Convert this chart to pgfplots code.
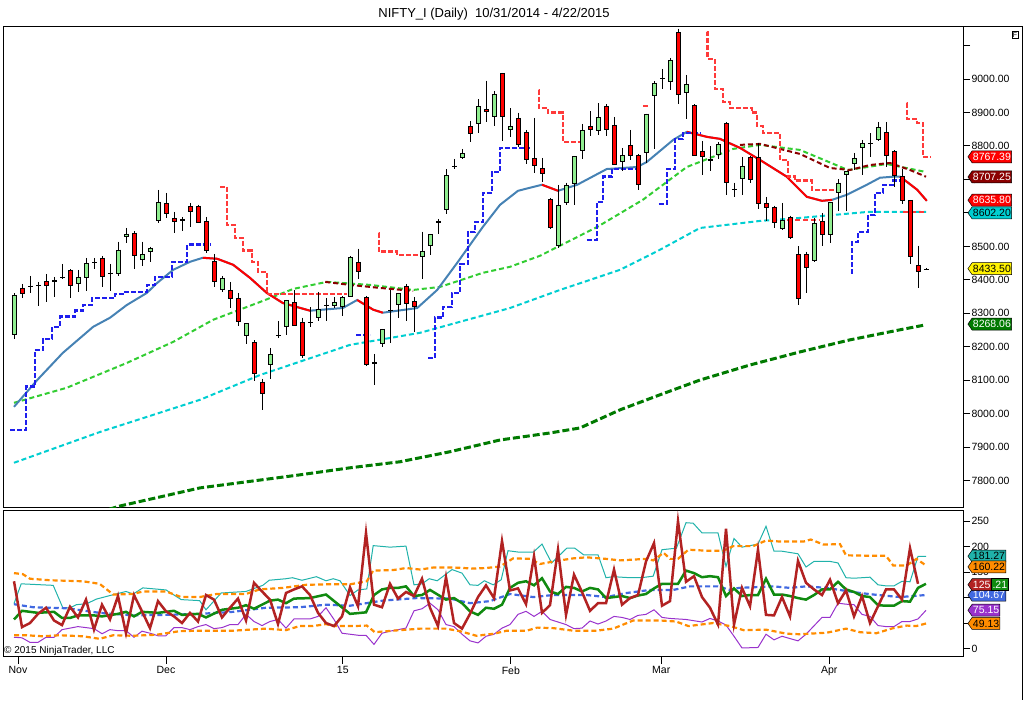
\documentclass[border=0pt]{standalone}
\usepackage{pgfplots}
\pgfplotsset{compat=1.18}
\usepackage{pgfplotstable}
\usepackage{fontspec}
\setmainfont{Liberation Sans}
\usetikzlibrary{shapes.symbols}
\definecolor{upc}{HTML}{90EE90}
\definecolor{dnc}{HTML}{FF0000}
\definecolor{smab}{HTML}{4682B4}
\definecolor{limeg}{HTML}{32CD32}
\definecolor{cyn}{HTML}{00CED1}
\definecolor{dred}{HTML}{8B0000}
\definecolor{dgrn}{HTML}{007A00}
\definecolor{stblue}{HTML}{1E1EEE}
\definecolor{stred}{HTML}{FF3A3A}
\definecolor{fbrick}{HTML}{B22222}
\definecolor{fgreen}{HTML}{108A10}
\definecolor{rblue}{HTML}{4169E1}
\definecolor{dorange}{HTML}{FF8C00}
\definecolor{lsea}{HTML}{20B2AA}
\definecolor{dorchid}{HTML}{9932CC}
\pgfplotstableread{
i o h l c
0 8236 8360 8224 8355
1 8376 8388 8346 8358
2 8380 8412 8361 8383
3 8383 8394 8322 8385
4 8397 8418 8334 8382
5 8394 8409 8349 8400
6 8407 8448 8403 8409
7 8430 8432 8346 8382
8 8388 8430 8364 8409
9 8406 8466 8367 8451
10 8450 8466 8433 8452
11 8466 8472 8380 8409
12 8420 8448 8367 8422
13 8418 8514 8412 8490
14 8529 8555 8511 8538
15 8541 8545 8433 8472
16 8460 8514 8442 8478
17 8484 8499 8454 8496
18 8576 8669 8570 8633
19 8630 8660 8585 8597
20 8585 8603 8539 8573
21 8576 8588 8545 8582
22 8621 8630 8558 8603
23 8621 8625 8570 8570
24 8576 8588 8481 8487
25 8457 8478 8379 8394
26 8370 8412 8365 8406
27 8370 8394 8316 8343
28 8346 8361 8263 8275
29 8233 8251 8209 8272
30 8215 8220 8098 8119
31 8096 8105 8012 8060
32 8146 8197 8104 8179
33 8232 8278 8227 8234
34 8260 8340 8236 8340
35 8334 8370 8263 8263
36 8275 8287 8167 8173
37 8271 8319 8260 8273
38 8287 8364 8278 8313
39 8324 8346 8278 8326
40 8322 8349 8316 8334
41 8319 8352 8292 8349
42 8349 8472 8349 8469
43 8454 8493 8403 8424
44 8349 8352 8143 8146
45 8149 8179 8086 8155
46 8209 8254 8200 8254
47 8309 8370 8212 8311
48 8325 8361 8287 8361
49 8382 8388 8278 8328
50 8337 8349 8245 8319
51 8469 8544 8403 8487
52 8502 8537 8475 8537
53 8570 8582 8537 8576
54 8609 8731 8597 8713
55 8739 8761 8731 8741
56 8764 8791 8761 8779
57 8860 8875 8812 8836
58 8866 8940 8839 8919
59 8910 8995 8871 8901
60 8887 8964 8860 8955
61 9018 9018 8815 8887
62 8848 8913 8827 8860
63 8884 8899 8797 8803
64 8842 8848 8746 8758
65 8764 8884 8719 8740
66 8734 8764 8692 8716
67 8642 8645 8552 8555
68 8501 8684 8495 8624
69 8630 8690 8624 8684
70 8687 8770 8624 8770
71 8785 8866 8761 8848
72 8860 8904 8830 8848
73 8845 8928 8833 8887
74 8919 8925 8830 8848
75 8863 8887 8743 8743
76 8752 8794 8725 8773
77 8803 8848 8758 8770
78 8773 8776 8669 8684
79 8779 8896 8749 8896
80 8949 8994 8791 8988
81 9000 9030 8970 9003
82 8991 9063 8967 9057
83 9140 9150 8925 8952
84 8958 9012 8881 8985
85 8922 8925 8770 8770
86 8785 8815 8713 8767
87 8755 8800 8725 8761
88 8773 8812 8760 8806
89 8869 8872 8654 8690
90 8672 8690 8648 8672
91 8701 8767 8654 8740
92 8767 8770 8690 8698
93 8767 8809 8612 8627
94 8630 8648 8576 8615
95 8618 8622 8555 8570
96 8552 8630 8549 8579
97 8588 8592 8522 8525
98 8478 8500 8325 8343
99 8478 8484 8362 8436
100 8457 8585 8454 8570
101 8576 8600 8500 8534
102 8534 8633 8510 8633
103 8660 8700 8606 8690
104 8713 8725 8606 8725
105 8746 8779 8728 8764
106 8794 8818 8713 8809
107 8809 8838 8767 8809
108 8818 8872 8815 8857
109 8842 8872 8737 8770
110 8785 8787 8676 8710
111 8710 8730 8627 8636
112 8639 8639 8448 8469
113 8445 8502 8376 8424
114 8433 8436 8430 8433
}\candles
\begin{document}
\begin{tikzpicture}[x=1pt,y=1pt,font=\fontsize{10.5}{12}\selectfont]
\path[use as bounding box] (0,0) rectangle (1024,703);
\draw[black, line width=1pt] (3,676) -- (1022,676) -- (1022,3);
\node[draw, line width=0.6pt, inner sep=1pt, font=\fontsize{7}{8}\selectfont] at (1015,668) {F};
\node[font=\fontsize{13}{15}\selectfont] at (494,689) {NIFTY\_I (Daily)\ \ 10/31/2014 - 4/22/2015};
\pgfplotsset{hid/.style={only marks, mark=*, mark size=0.1pt, mark options={opacity=0}}}
% ---------------- upper panel
\begin{axis}[at={(3pt,195pt)}, anchor=south west, width=960pt, height=481pt, scale only axis,
  xmin=-1.375, xmax=118.625, ymin=7719, ymax=9155,
  xtick=\empty, ytick={7800,7900,8000,8100,8200,8300,8400,8500,8600,8700,8800,8900,9000,9100},
  yticklabels={7800.00,7900.00,8000.00,8100.00,8200.00,8300.00,8400.00,8500.00,8600.00,8700.00,8800.00,8900.00,9000.00,},
  yticklabel pos=right, ytick pos=right, tick align=outside, major tick length=7pt,
  tick style={black, line width=0.8pt}, axis line style={line width=1pt},
  yticklabel style={xshift=-2pt}, clip=true, clip mode=individual]
\addplot[dgrn, line width=3pt, dash pattern=on 7pt off 3pt] coordinates {(10.75,7707)(13.25,7725)(23.25,7779)(35.75,7818)(42,7839)(48.25,7857)(54.5,7887)(60.75,7922)(67,7943)(70.75,7958)(75.75,8012)(80.75,8057)(85.75,8101)(92,8146)(98.25,8185)(104.5,8221)(110.75,8251)(114,8266)};
\addplot[cyn, line width=2pt, dash pattern=on 5pt off 3pt] coordinates {(0,7854)(10.75,7946)(23.25,8042)(30.75,8116)(42,8206)(50.75,8242)(62,8316)(68.25,8370)(75.75,8430)(80.75,8490)(85.75,8555)(93.25,8576)(98.25,8585)(106.75,8603)(114,8603)};
\addplot[stred, line width=2pt, dash pattern=on 5pt off 3pt] coordinates {(96.6,8579)(100.75,8579)};
\addplot[stred, line width=2pt, dash pattern=on 5pt off 3pt] coordinates {(111.1,8603)(114,8603)};
\addplot[limeg, line width=2pt, dash pattern=on 5pt off 3pt] coordinates {(0,8033)(6.6,8078)(14.1,8152)(19.9,8215)(24.9,8281)(30.75,8334)(34.9,8373)(39.1,8394)(44.5,8385)(49.9,8370)(53.25,8379)(58.6,8421)(62,8439)(65.75,8472)(72.9,8558)(78.6,8639)(84.1,8737)(89.9,8791)(93.25,8803)(98.25,8788)(104.25,8728)(109.1,8746)(114,8722)};
\addplot[dred, line width=2pt, dash pattern=on 5pt off 3pt] coordinates {(38.9,8394)(42,8385)(45.75,8376)(49.9,8367)};
\addplot[dred, line width=2pt, dash pattern=on 5pt off 3pt] coordinates {(90.75,8803)(93.25,8806)(98.25,8776)(102,8734)(104.5,8728)(107,8743)(109.5,8749)(112,8728)(114,8708)};
\addplot[smab, line width=2pt] coordinates {(0,8021)(2.9,8101)(6.1,8182)(9.9,8260)(12,8287)(14.1,8325)(16.6,8361)(17.9,8391)(19.9,8430)(22,8454)(23.6,8466)(25.4,8463)(27.4,8445)(29.5,8406)(31.6,8361)(33.6,8331)(37,8308)(41.1,8316)(42.9,8340)(44.9,8311)(46.1,8302)(50.4,8316)(52.9,8370)(55.4,8451)(58.6,8558)(60.75,8624)(63,8666)(66,8684)(68,8666)(70.4,8684)(74.1,8731)(77.9,8737)(79.1,8752)(82.4,8818)(84.1,8842)(86.6,8827)(88.25,8821)(90.75,8794)(93.25,8758)(96.6,8708)(99.1,8648)(101,8636)(102.25,8639)(104.1,8654)(106.6,8684)(108.25,8705)(109.9,8708)(110.75,8708)(111.6,8693)(112.9,8669)(114.1,8636)};
\addplot[red, line width=2pt] coordinates {(23.6,8466)(25.4,8463)(27.4,8445)(29.5,8406)(31.6,8361)(33.6,8331)(37,8308)};
\addplot[red, line width=2pt] coordinates {(42.9,8340)(44.9,8311)(46.1,8302)};
\addplot[red, line width=2pt] coordinates {(66,8684)(68,8666)};
\addplot[red, line width=2pt] coordinates {(84.1,8842)(86.6,8827)(88.25,8821)(90.75,8794)(93.25,8758)(96.6,8708)(99.1,8648)(101,8636)(102.25,8639)};
\addplot[red, line width=2pt] coordinates {(110.75,8708)(111.6,8693)(112.9,8669)(114.1,8636)};
\addplot[stblue, const plot, line width=2.5pt, dash pattern=on 5pt off 2pt] coordinates {(-0.5,7952)(1.5,8081)(2.6,8191)(3.6,8224)(4.75,8260)(5.75,8290)(7.6,8308)(8.6,8325)(9.75,8346)(12.6,8358)(13.6,8364)(16.6,8385)(17.6,8409)(19.75,8454)(21.6,8505)(24.5,8505)};
\addplot[stblue, line width=2.5pt, dash pattern=on 5pt off 2pt] coordinates {(42.75,8236)(44.5,8236)};
\addplot[stblue, const plot, line width=2.5pt, dash pattern=on 5pt off 2pt] coordinates {(51.75,8167)(52.6,8287)(53.6,8319)(54.75,8361)(55.75,8448)(56.75,8543)(57.6,8573)(58.6,8660)(59.75,8722)(60.75,8794)(64.5,8794)};
\addplot[stblue, const plot, line width=2.5pt, dash pattern=on 5pt off 2pt] coordinates {(71.6,8519)(72.9,8633)(73.6,8708)(74.75,8731)(77.9,8731)};
\addplot[stblue, const plot, line width=2.5pt, dash pattern=on 5pt off 2pt] coordinates {(80.6,8627)(81.6,8731)(82.6,8821)(83.6,8839)(85.75,8839)};
\addplot[stblue, const plot, line width=2.5pt, dash pattern=on 5pt off 2pt] coordinates {(104.6,8421)(104.75,8513)(105.5,8543)(106.75,8594)(107.6,8660)(108.6,8684)(109.9,8696)(110.75,8696)};
\addplot[stred, const plot, line width=2.5pt, dash pattern=on 5pt off 2pt] coordinates {(25.75,8678)(26.6,8564)(27.6,8525)(28.6,8487)(29.75,8454)(30.5,8424)(31.6,8358)(41.6,8358)};
\addplot[stred, const plot, line width=2.5pt, dash pattern=on 5pt off 2pt] coordinates {(45.6,8540)(45.65,8484)(47.9,8475)(50.75,8475)};
\addplot[stred, const plot, line width=2.5pt, dash pattern=on 5pt off 2pt] coordinates {(65.6,8967)(65.65,8913)(66.75,8899)(68.6,8812)(70.75,8812)};
\addplot[stred, line width=2.5pt, dash pattern=on 5pt off 2pt] coordinates {(78.6,8919)(79.25,8919)};
\addplot[stred, const plot, line width=2.5pt, dash pattern=on 5pt off 2pt] coordinates {(86.6,9140)(86.7,9060)(87.6,8970)(88.6,8931)(89.5,8913)(92.25,8899)(92.9,8860)(93.6,8839)(95.75,8758)(96.75,8708)(97.6,8696)(99.75,8669)(103.5,8669)};
\addplot[stred, const plot, line width=2.5pt, dash pattern=on 5pt off 2pt] coordinates {(111.6,8928)(111.65,8881)(112.9,8869)(113.6,8767)(114.5,8767)};
% candles
\addplot[hid, error bars/.cd, y dir=minus, y explicit, error mark=none, error bar style={black, line width=1pt}]
  table[x=i, y=h, y error minus expr=\thisrow{h}-\thisrow{l}] {\candles};
\addplot[hid, restrict expr to domain={\thisrow{c}-\thisrow{o}}{0:10000}, error bars/.cd, y dir=minus, y explicit, error mark=none, error bar style={black, line width=5pt}]
  table[x=i, y expr={max(\thisrow{c},\thisrow{o})}, y error minus expr={max(abs(\thisrow{c}-\thisrow{o}),3)}] {\candles};
\addplot[hid, restrict expr to domain={\thisrow{c}-\thisrow{o}}{0:10000}, error bars/.cd, y dir=minus, y explicit, error mark=none, error bar style={upc, line width=3pt}]
  table[x=i, y expr={max(\thisrow{c},\thisrow{o})-3}, y error minus expr={max(abs(\thisrow{c}-\thisrow{o})-6,0)}] {\candles};
\addplot[hid, restrict expr to domain={\thisrow{c}-\thisrow{o}}{-10000:-0.5}, error bars/.cd, y dir=minus, y explicit, error mark=none, error bar style={black, line width=5pt}]
  table[x=i, y=o, y error minus expr={max(\thisrow{o}-\thisrow{c},3)}] {\candles};
\addplot[hid, restrict expr to domain={\thisrow{c}-\thisrow{o}}{-10000:-0.5}, error bars/.cd, y dir=minus, y explicit, error mark=none, error bar style={dnc, line width=3pt}]
  table[x=i, y expr=\thisrow{o}-3, y error minus expr={max(\thisrow{o}-\thisrow{c}-6,0)}] {\candles};
\begin{scope}[every node/.style={signal, signal to=west, signal pointer angle=110, draw=black, line width=0.5pt, inner sep=0.8pt, minimum height=12pt, anchor=west, font=\fontsize{10.5}{12}\selectfont}]
\node[fill=red, text=white] at (axis cs:119.2,8767.39) {8767.39};
\node[fill=dred, text=white] at (axis cs:119.2,8707.25) {8707.25};
\node[fill=red, text=white] at (axis cs:119.2,8638) {8635.80};
\node[fill=cyn, text=black] at (axis cs:119.2,8600) {8602.20};
\node[fill=yellow, text=black] at (axis cs:119.2,8433.50) {8433.50};
\node[fill=dgrn, text=white] at (axis cs:119.2,8268.06) {8268.06};
\end{scope}
\end{axis}
% ---------------- lower panel
\begin{axis}[at={(3pt,46pt)}, anchor=south west, width=960pt, height=146pt, scale only axis,
  xmin=-1.375, xmax=118.625, ymin=-16.7, ymax=270,
  xtick={0.5,19,41.1,62.1,80.9,101.9}, xticklabels={Nov,Dec,15,Feb,Mar,Apr},
  xtick pos=bottom, ytick={0,50,100,150,200,250},
  yticklabel pos=right, ytick pos=right, tick align=outside, major tick length=7pt,
  tick style={black, line width=0.8pt}, axis line style={line width=1pt},
  yticklabel style={xshift=-2pt}, xticklabel style={yshift=1pt},
  /pgf/number format/assume math mode=true, clip mode=individual]
\addplot[lsea, line width=1pt] coordinates {(0,88)(0.9,127)(4.9,124)(6.1,80)(7,80)(7.8,86)(9.1,88)(10.3,97)(12,104)(14,112)(14.9,107)(16.1,119)(19,115)(20.9,96)(23.2,94)(24,76)(25.9,109)(29,112)(31.1,124)(31.9,134)(34,137)(34.8,139)(36,134)(37.8,141)(39,133)(39.9,137)(40.75,133)(42,104)(43,115)(44.1,117)(44.9,202)(47,199)(49,201)(50,125)(51,127)(51.9,137)(52.9,133)(54.75,155)(56,148)(57,125)(58,124)(58.8,133)(59.9,125)(60.9,135)(61.75,192)(63.2,189)(64.9,189)(66,205)(67.2,168)(69.1,197)(70.1,197)(71.2,184)(73,184)(74,139)(74.9,141)(77,139)(78.4,139)(79.9,142)(81,194)(82.8,197)(84,247)(84.9,246)(86,227)(88,227)(89,161)(90,216)(91,199)(93,205)(94,240)(95,191)(96,191)(98,186)(99,160)(100,171)(102,171)(103,168)(104,139)(105,138)(107,140)(108,125)(109,123)(110,123)(111,132)(112,131)(113,181)(114,181)};
\addplot[dorchid, line width=1pt] coordinates {(0,22)(1,21)(2,12)(3,12)(4,22)(5,22)(6,37)(8,43)(9,41)(10,39)(11,29)(12,37)(13,35)(14,35)(15,22)(16,34)(17,30)(18,25)(19,25)(20,41)(21,41)(22,37)(23,43)(24,47)(25,39)(26,41)(27,47)(28,47)(29,67)(30,53)(31,45)(32,53)(33,57)(34,40)(35,58)(36,58)(37,58)(38,63)(39,80)(40,57)(41,30)(42,28)(43,26)(44,26)(45,8)(46,30)(47,34)(48,37)(49,40)(50,74)(51,78)(52,89)(53,76)(54,47)(55,43)(56,28)(57,15)(58,11)(59,24)(60,28)(61,40)(62,47)(63,67)(64,73)(65,63)(66,73)(67,57)(68,52)(69,47)(70,39)(71,40)(72,54)(73,48)(74,54)(75,63)(76,61)(77,57)(78,65)(79,67)(80,76)(81,61)(82,59)(84,57)(86,52)(87,59)(88,54)(89,46)(90,24)(91,1)(93,2)(94,28)(95,17)(96,24)(98,15)(99,28)(101,61)(102,61)(103,89)(104,87)(105,86)(106,67)(107,63)(108,45)(109,43)(110,43)(111,53)(112,53)(113,58)(114,75)};
\addplot[dorange, line width=2.2pt, dash pattern=on 5pt off 3pt] coordinates {(0,148)(1.1,146)(2,137)(4.5,134)(8.6,132)(10.7,127)(12.4,106)(14.9,107)(16.1,112)(19,112)(20.9,101)(23.2,101)(25.3,107)(29,107)(30.7,116)(33.6,119)(36.5,125)(39,126)(42,126)(44.1,132)(44.9,153)(47.4,154)(49,158)(50.8,155)(52.4,159)(55,159)(57.4,157)(59,158)(60.75,161)(62.4,177)(64.5,176)(65.75,166)(68.25,173)(69.9,177)(71.6,179)(74,176)(75.75,173)(79,176)(79.9,173)(81.2,188)(82,176)(83,176)(84.3,194)(86.6,192)(88.7,192)(89.9,201)(92.4,201)(94,212)(95.75,210)(98.7,210)(99.6,214)(101.2,204)(103.25,205)(104,183)(107.4,182)(109,182)(109.9,163)(111.6,163)(112.8,176)(114,163)};
\addplot[dorange, line width=2.2pt, dash pattern=on 5pt off 3pt] coordinates {(0,26)(1.5,26)(3.6,24)(5.7,26)(8.6,24)(10.7,19)(12.4,26)(14.9,25)(17.8,27)(20.7,34)(23.2,35)(27.4,35)(31.5,39)(34,36)(35.7,44)(37.4,44)(39,48)(39.9,44)(42.4,44)(44.1,45)(45.1,32)(47.4,35)(50.8,39)(54,39)(55.75,34)(57.8,25)(60,29)(61.6,35)(64.1,35)(65.4,41)(67.4,40)(69.9,35)(72.8,35)(74.9,39)(77.4,55)(79.5,55)(80.75,55)(82.75,53)(84.3,44)(87.4,50)(89.5,44)(91.2,36)(94,37)(96.6,29)(98.25,28)(101.6,31)(104,39)(105.75,32)(107.8,30)(109.9,40)(111.6,45)(112.75,44)(114,49)};
\addplot[rblue, line width=2.2pt, dash pattern=on 5pt off 3pt] coordinates {(0,87)(2.4,81)(6.6,79)(10.7,70)(14.9,65)(19,66)(23.2,68)(27.4,72)(31.5,80)(35.7,81)(39,86)(42,84)(46.1,94)(50.3,99)(54.5,98)(57,89)(59.5,93)(62,107)(64.9,101)(67.4,105)(71.6,105)(74,101)(76.6,109)(79.5,115)(82.4,115)(84.5,122)(88,122)(89.5,115)(90.6,119)(94.9,122)(97,119)(99,122)(101.6,119)(103.6,114)(105.75,109)(108,105)(110.75,101)(114,105)};
\addplot[fgreen, line width=2.5pt] coordinates {(0,57)(1,74)(3,70)(5,72)(6,60)(7,60)(8,65)(10,65)(11,63)(13,68)(14,72)(15,63)(16,72)(18,70)(20,74)(21,66)(23,68)(24,61)(26,76)(28,80)(29,85)(30,78)(32,94)(33,96)(34,89)(35,98)(37,99)(39,106)(42,68)(44,71)(45,105)(46,116)(47,119)(48,119)(49,122)(50,103)(51,105)(52,115)(54,96)(55,99)(56,89)(57,73)(58,66)(59,80)(60,78)(61,86)(62,119)(63,129)(64,132)(65,124)(66,138)(67,112)(68,107)(69,121)(70,119)(71,112)(72,119)(73,116)(74,99)(75,101)(76,103)(77,99)(78,104)(79,107)(80,118)(81,127)(82,127)(83,127)(84,153)(85,148)(86,140)(87,142)(88,140)(89,103)(90,118)(91,103)(92,105)(93,105)(94,137)(95,106)(96,106)(97,103)(98,99)(99,96)(100,105)(101,116)(102,116)(103,131)(104,116)(105,111)(106,103)(107,101)(108,85)(109,84)(110,84)(111,93)(112,92)(113,119)(114,127)};
\addplot[fbrick, line width=2.5pt] coordinates {(0,132)(1,42)(2,50)(3,68)(4,80)(5,55)(6,46)(7,82)(8,61)(9,96)(10,37)(11,86)(12,57)(13,103)(14,30)(15,105)(16,73)(17,40)(18,93)(19,73)(20,63)(21,50)(22,70)(23,53)(24,105)(25,96)(26,61)(27,80)(28,98)(29,55)(30,129)(31,112)(32,96)(33,48)(34,109)(35,116)(36,122)(37,105)(38,70)(39,50)(40,44)(41,63)(42,120)(43,83)(44,227)(45,86)(46,81)(47,127)(48,98)(49,111)(50,103)(51,137)(52,80)(53,44)(54,140)(55,50)(56,39)(57,68)(58,101)(59,124)(60,99)(61,211)(62,114)(63,118)(64,87)(65,181)(66,70)(67,85)(68,194)(69,66)(70,145)(71,111)(72,74)(73,89)(74,89)(75,155)(76,86)(77,99)(78,105)(79,171)(80,207)(81,84)(82,93)(83,250)(84,131)(85,142)(86,101)(87,80)(88,47)(89,235)(90,47)(91,119)(92,83)(93,194)(94,66)(95,65)(96,101)(97,63)(98,172)(99,129)(100,116)(101,105)(102,135)(103,89)(104,114)(105,63)(106,103)(107,50)(108,83)(109,116)(110,116)(111,96)(112,197)(113,127)};
\node[anchor=south west, inner sep=1pt, font=\fontsize{10}{11}\selectfont] at (rel axis cs:0,0) {© 2015 NinjaTrader, LLC};
\begin{scope}[every node/.style={signal, signal to=west, signal pointer angle=110, draw=black, line width=0.5pt, inner sep=0.8pt, minimum height=12pt, anchor=west, font=\fontsize{10.5}{12}\selectfont}]
\node[fill=lsea, text=black] at (axis cs:119.2,181.27) {181.27};
\node[fill=dorange, text=black] at (axis cs:119.2,160.22) {160.22};
\node[fill=rblue, text=white] at (axis cs:119.2,104.67) {104.67};
\node[fill=dorchid, text=white] at (axis cs:119.2,75.15) {75.15};
\node[fill=dorange, text=black] at (axis cs:119.2,49.13) {49.13};
\node[fill=fbrick, text=white] (rb) at (axis cs:119.2,125.21) {125};
\end{scope}
\node[fill=fgreen, text=white, draw=black, line width=0.5pt, inner sep=0.8pt, minimum height=12pt, anchor=west, font=\fontsize{10.5}{12}\selectfont] at (rb.east) {.21};
\end{axis}
\end{tikzpicture}
\end{document}
